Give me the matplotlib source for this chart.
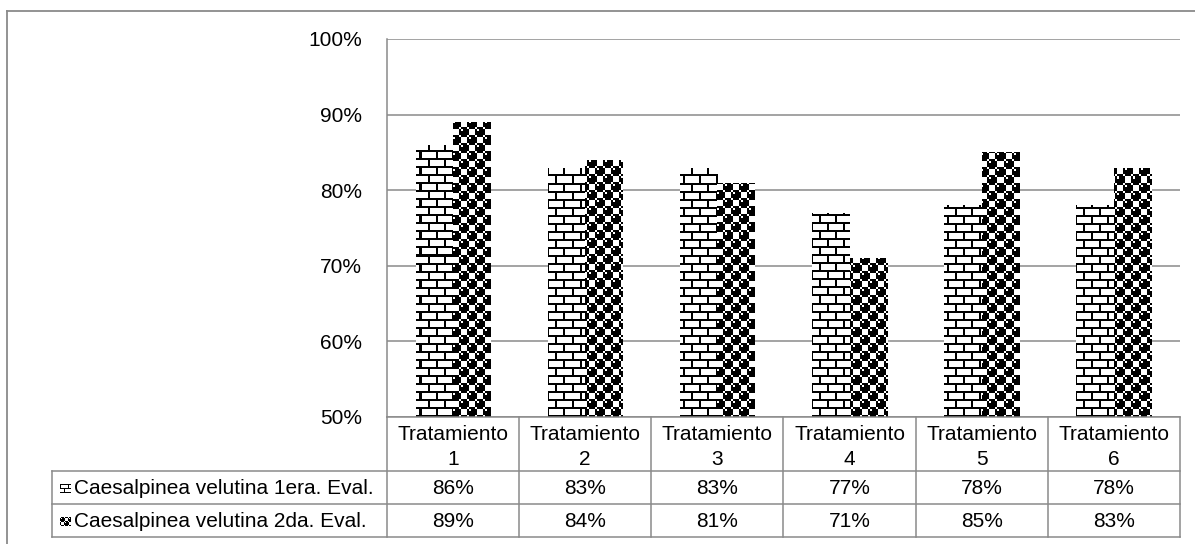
import numpy as np
import matplotlib
matplotlib.use("Agg")
import matplotlib.pyplot as plt
from matplotlib.lines import Line2D

plt.rcParams['font.family'] = ['Liberation Sans', 'DejaVu Sans']

categories = ["Tratamiento\n1", "Tratamiento\n2", "Tratamiento\n3",
              "Tratamiento\n4", "Tratamiento\n5", "Tratamiento\n6"]
series_names = ["Caesalpinea velutina 1era. Eval.", "Caesalpinea velutina 2da. Eval."]
eval1 = [86, 83, 83, 77, 78, 78]
eval2 = [89, 84, 81, 71, 85, 83]
y_ticks = [50, 60, 70, 80, 90, 100]

W, H = 1195, 544
DPI = 100
GRAY = "#8a8a8a"

# 8x8 fill patterns, drawn at 2x
BRICK = ["11111111",
         "10000000",
         "10000000",
         "10000000",
         "11111111",
         "00001000",
         "00001000",
         "00001000"]
SPHERE = ["01110111",
          "10111000",
          "11111000",
          "11111000",
          "01110111",
          "10001011",
          "10001111",
          "10001111"]


def tile(rows, h, w, scale=2):
    base = np.array([[int(c) for c in r] for r in rows], dtype=float)
    base = np.kron(base, np.ones((scale, scale)))
    reps = (h // base.shape[0] + 2, w // base.shape[1] + 2)
    return np.tile(base, reps)[:h, :w]


fig = plt.figure(figsize=(W / DPI, H / DPI), dpi=DPI)
fig.patch.set_facecolor("white")

# plot area in pixel coordinates
px_l, px_r, px_t, px_b = 387, 1180, 39, 417
ax = fig.add_axes([px_l / W, 1 - px_b / H, (px_r - px_l) / W, (px_b - px_t) / H])
ax.set_xlim(-0.5, len(categories) - 0.5)
ax.set_ylim(50, 100)
ax.set_yticks(y_ticks)
ax.set_yticklabels([f"{v}%" for v in y_ticks], fontsize=15)
ax.tick_params(axis='y', length=0, pad=18)
ax.set_xticks([])
ax.set_axisbelow(True)
ax.yaxis.grid(True, color=GRAY, lw=1.1)
for s in ["top", "right", "bottom"]:
    ax.spines[s].set_visible(False)
ax.spines["left"].set_color(GRAY)
ax.spines["left"].set_linewidth(1.1)

x = np.arange(len(categories))
bw = 0.284
pw, ph = px_r - px_l, px_b - px_t
patterns = [tile(BRICK, ph, pw), tile(SPHERE, ph, pw)]
for k, (vals, pat) in enumerate(zip([eval1, eval2], patterns)):
    bars = ax.bar(x + (k - 0.5) * bw, vals, width=bw, bottom=0,
                  color="white", edgecolor="none", zorder=1.5)
    for b in bars:
        im = ax.imshow(pat, cmap="gray_r", vmin=0, vmax=1,
                       extent=(-0.5, len(categories) - 0.5, 50, 100),
                       interpolation="nearest", aspect="auto", zorder=2)
        im.set_clip_path(b)
ax.set_xlim(-0.5, len(categories) - 0.5)
ax.set_ylim(50, 100)

# overlay in pixel coordinates for the data table and frame
ov = fig.add_axes([0, 0, 1, 1])
ov.set_xlim(0, W)
ov.set_ylim(H, 0)
ov.axis("off")
ov.patch.set_visible(False)


def hline(y, x0, x1, lw=1.1):
    ov.add_line(Line2D([x0, x1], [y, y], color=GRAY, lw=lw))


def vline(xp, y0, y1, lw=1.1):
    ov.add_line(Line2D([xp, xp], [y0, y1], color=GRAY, lw=lw))


# outer chart frame
hline(10.5, 7, W, lw=1.3)
vline(7, 10.5, H, lw=1.3)

col_w = (px_r - px_l) / len(categories)
row_hdr = (px_b, 471)
row1 = (471, 504)
row2 = (504, 537)
leg_l = 52

hline(px_b, px_l, px_r)
for y in (row1[0], row2[0], row2[1]):
    hline(y, leg_l, px_r)
for i in range(len(categories) + 1):
    vline(px_l + i * col_w, px_b, row2[1])
vline(leg_l, row1[0], row2[1])

for i, cat in enumerate(categories):
    cx = px_l + (i + 0.5) * col_w
    ov.text(cx, 447, cat, ha="center", va="center",
            fontsize=15, linespacing=1.38)
    ov.text(cx, (row1[0] + row1[1]) / 2 + 1, f"{eval1[i]}%", ha="center",
            va="center", fontsize=15)
    ov.text(cx, (row2[0] + row2[1]) / 2 + 1, f"{eval2[i]}%", ha="center",
            va="center", fontsize=15)

# legend keys and series names
for (r0, r1), name, rows in zip([row1, row2], series_names, [BRICK, SPHERE]):
    cy = (r0 + r1) / 2 + 1
    key = tile(rows, 9, 11, scale=1)
    ov.imshow(key, cmap="gray_r", vmin=0, vmax=1,
              extent=(60, 71, cy + 4.5, cy - 4.5), interpolation="nearest",
              aspect="auto")
    ov.text(74, cy, name, ha="left", va="center", fontsize=15)
ov.set_xlim(0, W)
ov.set_ylim(H, 0)

fig.savefig("out.png", dpi=DPI, facecolor="white")
